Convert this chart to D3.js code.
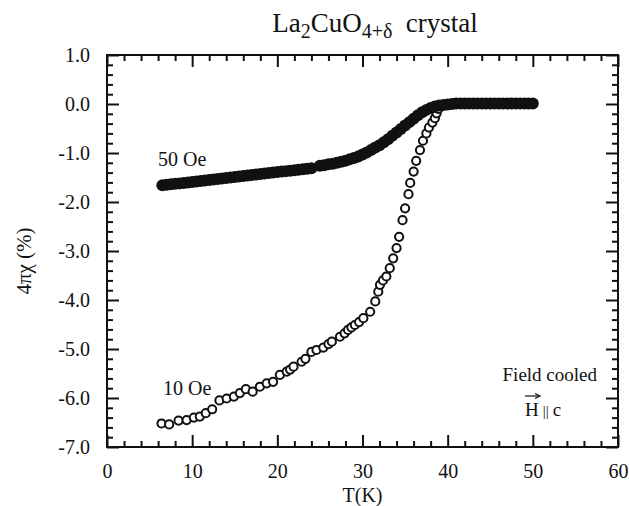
<!DOCTYPE html>
<html>
<head>
<meta charset="utf-8">
<script src="https://cdn.jsdelivr.net/npm/d3@7"></script>
<style>
  body { margin: 0; background: #fff; }
</style>
</head>
<body>
<div id="chart"></div>
<script>
// 50 Oe, field cooled (filled circles)
const t50 = [6.5, 7.0, 7.5, 8.0, 8.5, 9.0, 9.5, 10.0, 10.5, 11.0, 11.5, 12.0, 12.5, 13.0, 13.5, 14.0,
  14.5, 15.0, 15.5, 16.0, 16.5, 17.0, 17.5, 18.0, 18.5, 19.0, 19.5, 20.0, 20.5, 21.0, 21.5, 22.0,
  22.5, 23.0, 23.5, 24.0, 25.0, 25.5, 26.0, 26.5, 27.0, 27.5, 28.0, 28.5, 29.0, 29.5, 30.0, 30.5,
  31.0, 31.5, 32.0, 32.5, 33.0, 33.5, 34.0, 34.5, 35.0, 35.5, 36.0, 36.5, 37.0, 37.5, 38.0, 38.5,
  39.0, 39.5, 40.0, 40.5, 41.0, 41.5, 42.0, 42.5, 43.0, 43.5, 44.0, 44.5, 45.0, 45.5, 46.0, 46.5,
  47.0, 47.5, 48.0, 48.5, 49.0, 49.5, 50.0];
const chi50 = [-1.66, -1.65, -1.64, -1.63, -1.62, -1.61, -1.60, -1.59, -1.58, -1.57, -1.56, -1.55, -1.54, -1.53, -1.52, -1.51,
  -1.50, -1.49, -1.48, -1.47, -1.46, -1.45, -1.44, -1.43, -1.42, -1.41, -1.40, -1.39, -1.38, -1.37, -1.36, -1.35,
  -1.34, -1.33, -1.32, -1.31, -1.26, -1.25, -1.23, -1.22, -1.20, -1.18, -1.16, -1.13, -1.10, -1.07, -1.03, -0.99,
  -0.94, -0.89, -0.84, -0.78, -0.72, -0.65, -0.58, -0.51, -0.44, -0.37, -0.30, -0.23, -0.17, -0.12, -0.08, -0.05,
  -0.03, -0.02, -0.01, 0.00, 0.01, 0.01, 0.01, 0.01, 0.01, 0.01, 0.01, 0.01, 0.01, 0.01, 0.01, 0.01,
  0.01, 0.01, 0.01, 0.01, 0.01, 0.01, 0.01];

// 10 Oe, field cooled (open circles)
const t10 = [6.4, 7.3, 8.4, 9.35, 10.2, 10.9, 11.6, 12.35, 13.2, 14.05, 14.9, 15.6, 16.3, 17.1, 17.95, 18.75,
  19.5, 20.3, 21.1, 21.5, 21.9, 22.85, 23.3, 24.0, 24.6, 25.4, 26.0, 26.4, 27.35, 27.9, 28.3, 28.7,
  29.1, 29.6, 30.1, 30.9, 31.5, 31.85, 32.05, 32.4, 32.8, 33.2, 33.6, 34.0, 34.3, 34.7, 35.0, 35.4,
  35.6, 36.0, 36.3, 36.75, 37.1, 37.5, 37.8, 38.2, 38.5, 38.7, 38.9, 39.2, 40, 41, 42, 43, 44, 45,
  46, 47, 48, 49, 50];
const chi10 = [-6.52, -6.54, -6.46, -6.45, -6.40, -6.38, -6.31, -6.23, -6.05, -6.01, -5.97, -5.90, -5.82, -5.87, -5.77, -5.70,
  -5.67, -5.53, -5.46, -5.42, -5.36, -5.26, -5.20, -5.06, -5.02, -4.97, -4.90, -4.85, -4.75, -4.68, -4.61, -4.56,
  -4.51, -4.45, -4.37, -4.24, -4.03, -3.83, -3.69, -3.60, -3.52, -3.35, -3.15, -2.94, -2.71, -2.37, -2.13, -1.84,
  -1.61, -1.38, -1.16, -0.94, -0.75, -0.60, -0.48, -0.38, -0.29, -0.19, -0.10, -0.04, 0.00, 0.00, 0.00, 0.00, 0.00, 0.00,
  0.00, 0.00, 0.00, 0.00, 0.00];

const xMajor = [0, 10, 20, 30, 40, 50, 60];
const yMajor = [1, 0, -1, -2, -3, -4, -5, -6, -7];

const SERIF = "'Liberation Serif', 'Times New Roman', Times, 'DejaVu Serif', serif";

const W = 629, H = 506;
const margin = { top: 55, right: 11, bottom: 59, left: 107 },
      width = W - margin.left - margin.right,
      height = H - margin.top - margin.bottom;

const svg = d3.select("#chart").append("svg")
    .attr("width", W)
    .attr("height", H);

const g = svg.append("g")
    .attr("transform", "translate(" + margin.left + "," + margin.top + ")");

const x = d3.scaleLinear().domain([0, 60]).range([0, width]);
const y = d3.scaleLinear().domain([-7, 1]).range([height, 0]);

const xMinor = d3.range(0, 61, 2).filter(v => v % 10 !== 0);
const yMinor = d3.range(-70, 11, 2).map(v => v / 10).filter(v => Math.abs(v % 1) > 0.01);

const fmt = d => d.toFixed(1);

function tickAxis(axisFn, vals, size, labels) {
  return axisFn.tickValues(vals).tickSizeInner(-size).tickSizeOuter(0)
    .tickFormat(labels ? labels : "");
}

// bottom
g.append("g").attr("class", "ax").attr("transform", "translate(0," + height + ")")
  .call(tickAxis(d3.axisBottom(x), xMajor, 12, d => d).tickPadding(17));
g.append("g").attr("class", "ax").attr("transform", "translate(0," + height + ")")
  .call(tickAxis(d3.axisBottom(x), xMinor, 6));
// top
g.append("g").attr("class", "ax").call(tickAxis(d3.axisTop(x), xMajor, 12));
g.append("g").attr("class", "ax").call(tickAxis(d3.axisTop(x), xMinor, 6));
// left
g.append("g").attr("class", "ax")
  .call(tickAxis(d3.axisLeft(y), yMajor, 12, fmt).tickPadding(17));
g.append("g").attr("class", "ax").call(tickAxis(d3.axisLeft(y), yMinor, 6));
// right
g.append("g").attr("class", "ax").attr("transform", "translate(" + width + ",0)")
  .call(tickAxis(d3.axisRight(y), yMajor, 12));
g.append("g").attr("class", "ax").attr("transform", "translate(" + width + ",0)")
  .call(tickAxis(d3.axisRight(y), yMinor, 6));

g.selectAll(".ax .domain").remove();
g.selectAll(".ax line").attr("stroke", "#111").attr("stroke-width", 2);
g.selectAll(".ax text").style("font-size", "20px").attr("fill", "#111");

// frame
g.append("rect")
  .attr("width", width).attr("height", height)
  .attr("fill", "none").attr("stroke", "#111").attr("stroke-width", 2);

// 10 Oe open circles
g.append("g").selectAll("circle")
  .data(t10.map((t, i) => ({ t: t, v: chi10[i] })))
  .enter().append("circle")
    .attr("cx", d => x(d.t))
    .attr("cy", d => y(d.v))
    .attr("r", 4.1)
    .attr("fill", "#fff")
    .attr("stroke", "#111")
    .attr("stroke-width", 2);

// 50 Oe filled circles
g.append("g").selectAll("circle")
  .data(t50.map((t, i) => ({ t: t, v: chi50[i] })))
  .enter().append("circle")
    .attr("cx", d => x(d.t))
    .attr("cy", d => y(d.v))
    .attr("r", 6)
    .attr("fill", "#111");

// labels
svg.append("text").attr("x", 158).attr("y", 166).style("font-size", "20px").text("50 Oe");
svg.append("text").attr("x", 163).attr("y", 395).style("font-size", "20px").text("10 Oe");
svg.append("text").attr("x", 597).attr("y", 381).attr("text-anchor", "end")
  .style("font-size", "19px").text("Field cooled");

const hc = svg.append("text").attr("x", 525).attr("y", 416).style("font-size", "19px");
hc.append("tspan").text("H");
hc.append("tspan").attr("dx", 4).style("font-size", "15px").text("||");
hc.append("tspan").attr("dx", 4).text("c");
// vector arrow over H
svg.append("line").attr("x1", 525).attr("x2", 539).attr("y1", 396).attr("y2", 396)
  .attr("stroke", "#111").attr("stroke-width", 1.2);
svg.append("path").attr("d", "M535,393.5 L540,396 L535,398.5").attr("fill", "none")
  .attr("stroke", "#111").attr("stroke-width", 1.2);

// title
const title = svg.append("text").attr("x", 375).attr("y", 32).attr("text-anchor", "middle")
  .style("font-size", "27px");
title.append("tspan").text("La");
title.append("tspan").attr("dy", 6).style("font-size", "20px").text("2");
title.append("tspan").attr("dy", -6).text("CuO");
title.append("tspan").attr("dy", 6).style("font-size", "20px").text("4+δ");
title.append("tspan").attr("dy", -6).text("\u00a0 crystal");

// axis titles
svg.append("text")
  .attr("transform", "translate(31," + (margin.top + height / 2 + 10) + ") rotate(-90)")
  .attr("text-anchor", "middle")
  .style("font-size", "21px")
  .text("4πχ (%)");

svg.append("text")
  .attr("x", margin.left + width / 2).attr("y", 502)
  .attr("text-anchor", "middle")
  .style("font-size", "20px")
  .text("T(K)");

// one serif face for every label, axis groups included
svg.selectAll("g.ax").attr("font-family", null);
svg.selectAll("text").style("font-family", SERIF).attr("fill", "#111");
</script>
</body>
</html>
